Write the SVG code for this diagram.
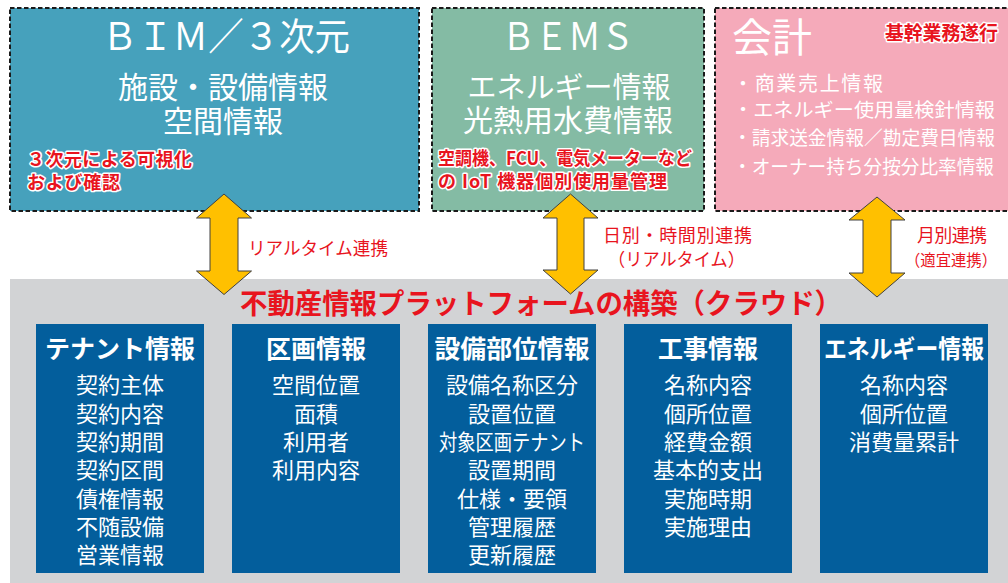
<svg xmlns="http://www.w3.org/2000/svg" width="1008" height="583" viewBox="0 0 1008 583">
<style>
text{font-family:"Noto Sans CJK JP","Noto Sans",sans-serif;}
.src{stroke:#1a1a1a;stroke-width:2;stroke-dasharray:4.5 2.5;}
.wt{fill:#ffffff;}
.halo{fill:#e8141e;font-weight:700;stroke:#ffffff;stroke-width:3;paint-order:stroke;stroke-linejoin:round;}
.lbl{fill:#e8141e;font-size:18px;}
.col{fill:#035e9c;}
.ct{fill:#ffffff;font-size:25px;font-weight:700;text-anchor:middle;}
.ci{fill:#ffffff;font-size:22px;text-anchor:middle;}
.arr{fill:#ffc000;stroke:#404040;stroke-width:1;stroke-linejoin:miter;}
</style>
<rect width="1008" height="583" fill="#ffffff"/>

<g id="platform">
<rect x="10" y="279" width="998" height="304" fill="#d2d3d5"/>
<text x="541" y="314" text-anchor="middle" font-size="28" font-weight="700" fill="#e8141e" textLength="602" lengthAdjust="spacingAndGlyphs">不動産情報プラットフォームの構築（クラウド）</text>
</g>

<g id="bim">
<rect class="src" x="10" y="8" width="409" height="203" fill="#46a1bc"/>
<text class="wt" x="226" y="50" text-anchor="middle" font-size="38" textLength="248" lengthAdjust="spacingAndGlyphs">ＢＩＭ／３次元</text>
<text class="wt" x="223" y="98" text-anchor="middle" font-size="30">施設・設備情報</text>
<text class="wt" x="223" y="132" text-anchor="middle" font-size="30">空間情報</text>
<text class="halo" x="27" y="166" font-size="18" textLength="165">３次元による可視化</text>
<text class="halo" x="27" y="189" font-size="18" textLength="93">および確認</text>
</g>

<g id="bems">
<rect class="src" x="432" y="8" width="272" height="203" fill="#84bba4"/>
<text class="wt" x="568" y="50" text-anchor="middle" font-size="38" textLength="132" lengthAdjust="spacingAndGlyphs">ＢＥＭＳ</text>
<text class="wt" x="569" y="98" text-anchor="middle" font-size="29">エネルギー情報</text>
<text class="wt" x="568" y="131" text-anchor="middle" font-size="30">光熱用水費情報</text>
<text class="halo" x="438" y="165" font-size="18" textLength="254" lengthAdjust="spacingAndGlyphs">空調機、FCU、電気メーターなど</text>
<text class="halo" x="438" y="188" font-size="18" textLength="229">の IoT 機器個別使用量管理</text>
</g>

<g id="accounting">
<rect class="src" x="715" y="8" width="300" height="203" fill="#f5aaba"/>
<text class="wt" x="732" y="52" font-size="40">会計</text>
<text class="halo" x="885" y="40" font-size="19" textLength="113">基幹業務遂行</text>
<text class="wt" x="733" y="91" font-size="20" textLength="150">・商業売上情報</text>
<text class="wt" x="733" y="117" font-size="19" textLength="262" lengthAdjust="spacingAndGlyphs">・エネルギー使用量検針情報</text>
<text class="wt" x="733" y="145" font-size="19" textLength="262" lengthAdjust="spacingAndGlyphs">・請求送金情報／勘定費目情報</text>
<text class="wt" x="733" y="174" font-size="19" textLength="261" lengthAdjust="spacingAndGlyphs">・オーナー持ち分按分比率情報</text>
</g>

<g id="tenant">
<rect class="col" x="36" y="324" width="168" height="249"/>
<text class="ct" x="120" y="358">テナント情報</text>
<text class="ci" x="120" y="393">契約主体</text>
<text class="ci" x="120" y="421.5">契約内容</text>
<text class="ci" x="120" y="450">契約期間</text>
<text class="ci" x="120" y="478">契約区間</text>
<text class="ci" x="120" y="506.5">債権情報</text>
<text class="ci" x="120" y="535">不随設備</text>
<text class="ci" x="120" y="563">営業情報</text>
</g>

<g id="section">
<rect class="col" x="232" y="324" width="168" height="249"/>
<text class="ct" x="316" y="358">区画情報</text>
<text class="ci" x="316" y="393">空間位置</text>
<text class="ci" x="316" y="421.5">面積</text>
<text class="ci" x="316" y="450">利用者</text>
<text class="ci" x="316" y="478">利用内容</text>
</g>

<g id="equipment">
<rect class="col" x="428" y="324" width="168" height="249"/>
<text class="ct" x="512" y="358" textLength="155" lengthAdjust="spacingAndGlyphs">設備部位情報</text>
<text class="ci" x="512" y="393">設備名称区分</text>
<text class="ci" x="512" y="421.5">設置位置</text>
<text class="ci" x="512" y="450" textLength="146" lengthAdjust="spacingAndGlyphs">対象区画テナント</text>
<text class="ci" x="512" y="478">設置期間</text>
<text class="ci" x="512" y="506.5">仕様・要領</text>
<text class="ci" x="512" y="535">管理履歴</text>
<text class="ci" x="512" y="563">更新履歴</text>
</g>

<g id="construction">
<rect class="col" x="624" y="324" width="168" height="249"/>
<text class="ct" x="708" y="358">工事情報</text>
<text class="ci" x="708" y="393">名称内容</text>
<text class="ci" x="708" y="421.5">個所位置</text>
<text class="ci" x="708" y="450">経費金額</text>
<text class="ci" x="708" y="478">基本的支出</text>
<text class="ci" x="708" y="506.5">実施時期</text>
<text class="ci" x="708" y="535">実施理由</text>
</g>

<g id="energy">
<rect class="col" x="820" y="324" width="168" height="249"/>
<text class="ct" x="904" y="358" textLength="160" lengthAdjust="spacingAndGlyphs">エネルギー情報</text>
<text class="ci" x="904" y="393">名称内容</text>
<text class="ci" x="904" y="421.5">個所位置</text>
<text class="ci" x="904" y="450">消費量累計</text>
</g>

<g id="connectors">
<polygon class="arr" points="224,194 251.5,218 238,218 238,271 251.5,271 224,294.5 196.5,271 210,271 210,218 196.5,218"/>
<polygon class="arr" points="570.5,194 598,218 584,218 584,270 598,270 570.5,294 543,270 557,270 557,218 543,218"/>
<polygon class="arr" points="877,197 905,220 891,220 891,273 905,273 877,297 849,273 863,273 863,220 849,220"/>
<text class="lbl" x="248" y="255" textLength="140" lengthAdjust="spacingAndGlyphs">リアルタイム連携</text>
<text class="lbl" x="603" y="242" textLength="149">日別・時間別連携</text>
<text class="lbl" x="608" y="266" textLength="137" lengthAdjust="spacingAndGlyphs">（リアルタイム）</text>
<text class="lbl" x="917" y="242" textLength="70">月別連携</text>
<text class="lbl" x="905" y="266" font-size="16" style="font-size:16px" textLength="92" lengthAdjust="spacingAndGlyphs">（適宜連携）</text>
</g>
</svg>
